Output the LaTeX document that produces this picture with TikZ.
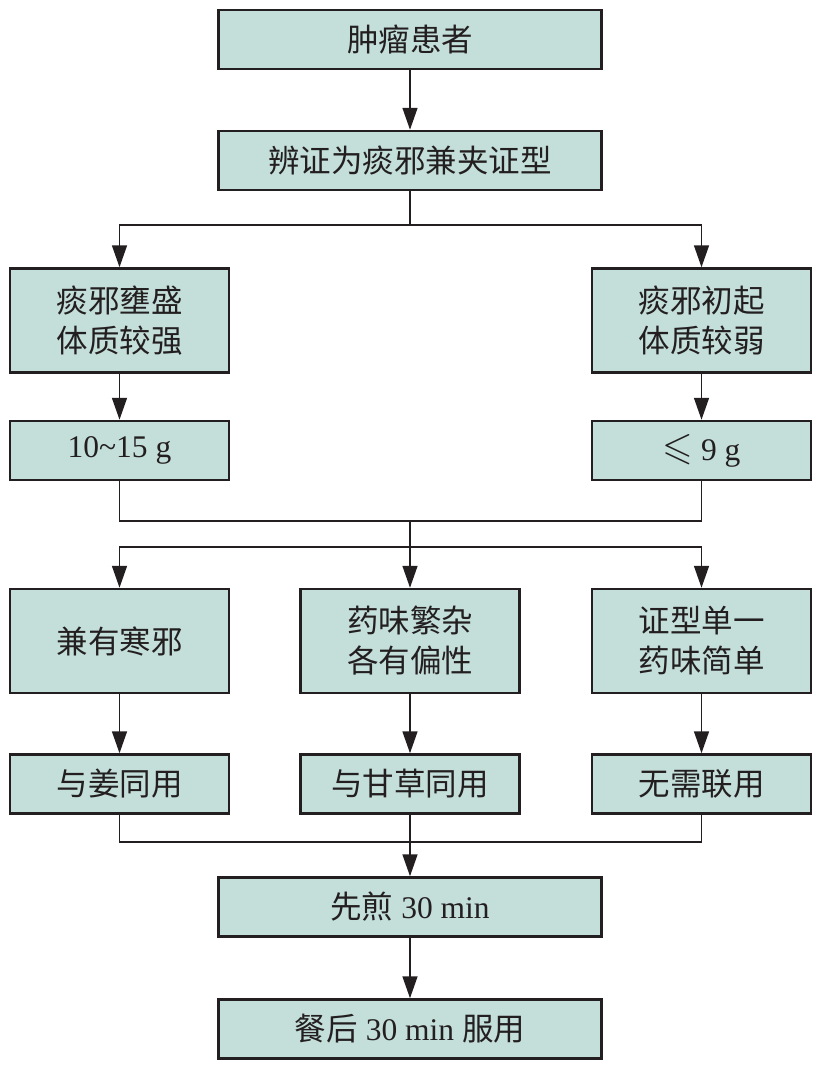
\documentclass[tikz,border=0pt]{standalone}
\usepackage{amssymb}
\usepackage{fontspec}
\setmainfont{Liberation Serif}
\newfontfamily\cjk{Noto Sans CJK SC}
\usetikzlibrary{arrows.meta}
\definecolor{boxfill}{HTML}{C4DFDA}
\definecolor{ink}{HTML}{231F20}
\begin{document}
\begin{tikzpicture}[x=1pt,y=-1pt,
  box/.style={draw=ink, line width=2.5pt, fill=boxfill, minimum height=59pt, inner sep=0pt, align=center, text=ink, font=\fontsize{31.5}{40}\selectfont},
  wide/.style={box, minimum width=383pt},
  side/.style={box, minimum width=219pt},
  tall/.style={minimum height=104pt},
  conn/.style={draw=ink, line width=1.6pt},
  arr/.style={conn, -{Triangle[length=22pt,width=15pt]}}]
\path[use as bounding box] (0,0) rectangle (822,1065);

\node[wide] (n1) at (410,39.5) {\cjk 肿瘤患者};
\node[wide] (n2) at (410,160.5) {\cjk 辨证为痰邪兼夹证型};
\node[side,tall] (l1) at (119.5,320.5) {\cjk 痰邪壅盛\\\cjk 体质较强};
\node[side,tall] (r1) at (701.5,320.5) {\cjk 痰邪初起\\\cjk 体质较弱};
\node[side] (l2) at (119.5,450.5) {10\char"007E 15 g};
\node[side] (r2) at (701.5,450.5) {\raisebox{1pt}{\scalebox{1.25}{$\leqslant$}} 9 g};
\node[side,tall] (a3) at (119.5,641) {\cjk 兼有寒邪};
\node[side,tall] (b3) at (410,641) {\cjk 药味繁杂\\\cjk 各有偏性};
\node[side,tall] (c3) at (701.5,641) {\cjk 证型单一\\\cjk 药味简单};
\node[side] (a4) at (119.5,784) {\cjk 与姜同用};
\node[side] (b4) at (410,784) {\cjk 与甘草同用};
\node[side] (c4) at (701.5,784) {\cjk 无需联用};
\node[wide] (n5) at (410,907) {{\cjk 先煎} 30 min};
\node[wide] (n6) at (410,1029) {{\cjk 餐后} 30 min {\cjk 服用}};

\coordinate (s1) at (410,225);
\coordinate (m1) at (410,521);
\coordinate (m2) at (410,547);
\coordinate (m3) at (410,842);

\draw[arr] (n1) -- (n2);
\draw[conn] (n2.south) -- (s1);
\draw[arr] (s1) -| (l1.north);
\draw[arr] (s1) -| (r1.north);
\draw[arr] (l1) -- (l2);
\draw[arr] (r1) -- (r2);
\draw[conn] (l2.south) |- (m1) -| (r2.south);
\draw[conn] (m1) -- (m2);
\draw[arr] (m2) -| (a3.north);
\draw[arr] (m2) -| (c3.north);
\draw[arr] (m2) -- (b3.north);
\draw[arr] (a3) -- (a4);
\draw[arr] (b3) -- (b4);
\draw[arr] (c3) -- (c4);
\draw[conn] (a4.south) |- (m3) -| (c4.south);
\draw[arr] (b4.south) -- (n5.north);
\draw[arr] (n5) -- (n6);
\end{tikzpicture}
\end{document}
